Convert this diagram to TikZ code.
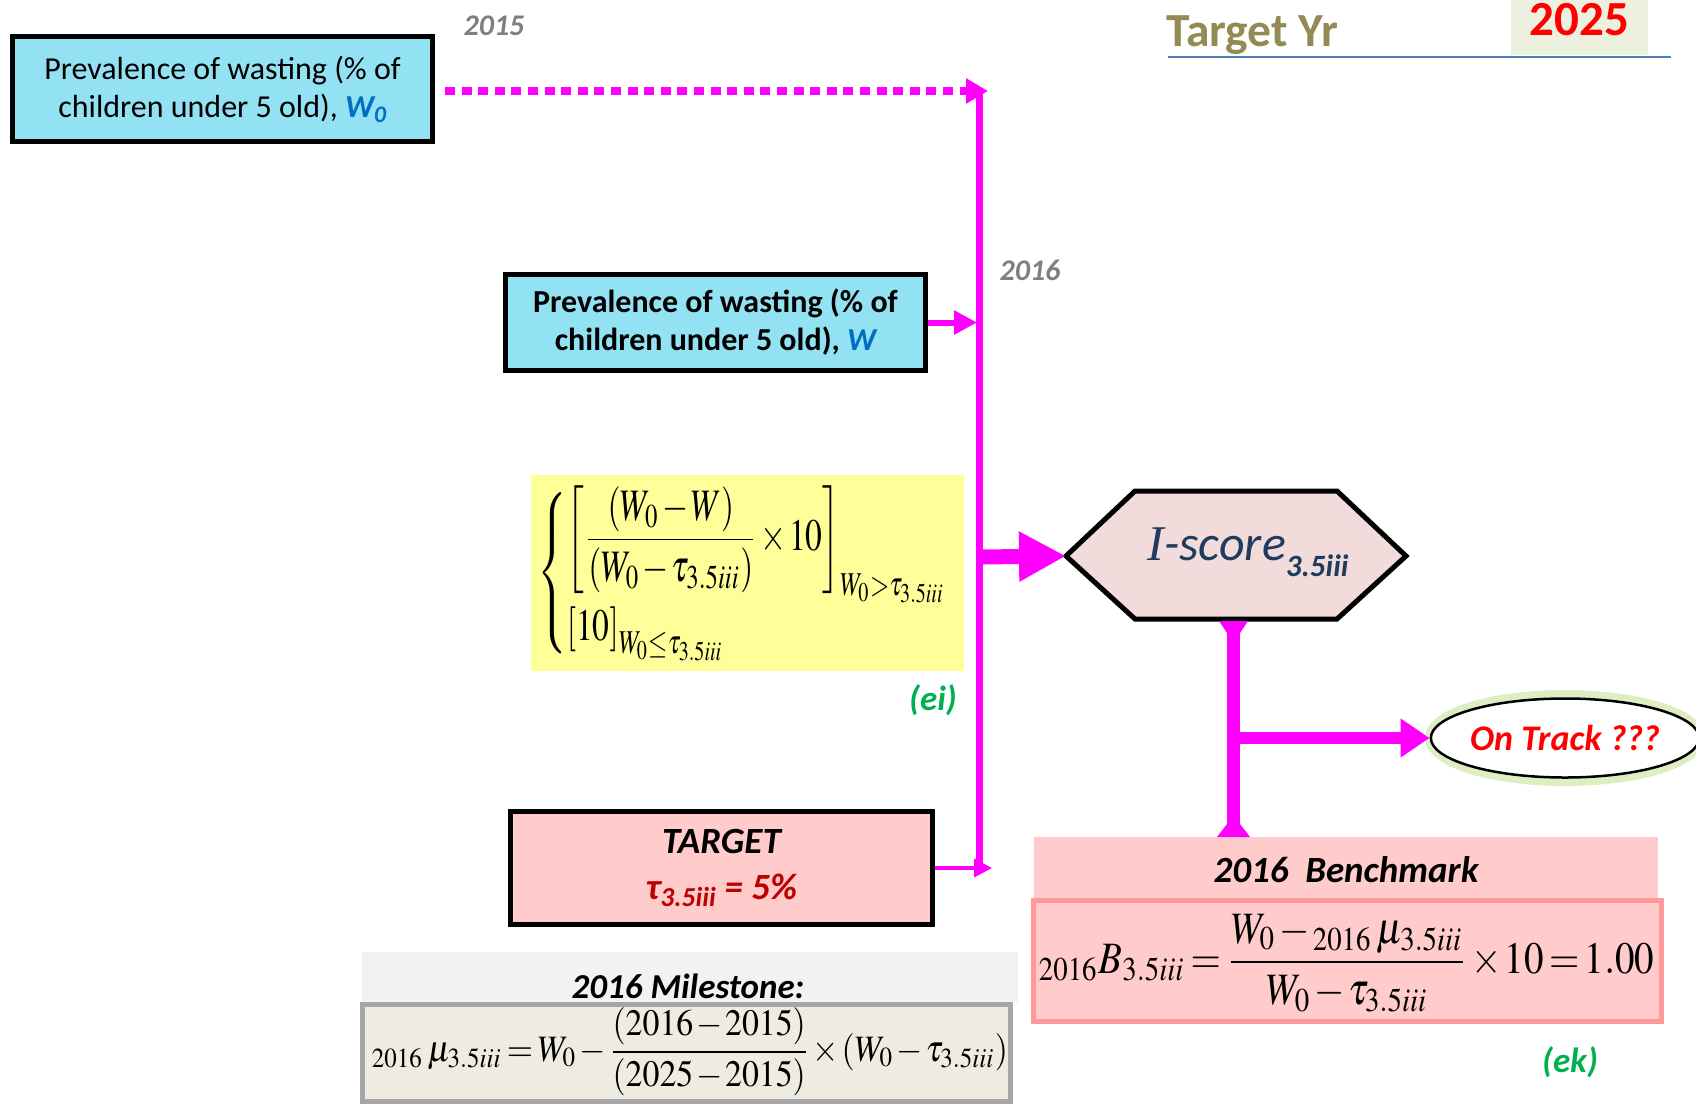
\documentclass[tikz,border=0pt]{standalone}
\usepackage{mathptmx}
\usepackage[no-math]{fontspec}
\setmainfont{Carlito}
\newfontfamily\serifit{Liberation Serif}
\usepackage{graphicx}
\usetikzlibrary{arrows.meta,shapes.geometric}
\definecolor{cMag}{HTML}{FF00FF}
\definecolor{cCyan}{HTML}{93E2F3}
\definecolor{cPink}{HTML}{FFCBCB}
\definecolor{cHex}{HTML}{F2DCDB}
\definecolor{cYel}{HTML}{FFFF99}
\definecolor{cWblue}{HTML}{0070C0}
\definecolor{cGreyTx}{HTML}{7F7F7F}
\definecolor{cGrn}{HTML}{00B050}
\definecolor{cOlive}{HTML}{948A54}
\definecolor{cRed}{HTML}{FF0000}
\definecolor{cDarkRed}{HTML}{C00000}
\definecolor{cGreenBox}{HTML}{EBF1DE}
\definecolor{cLGrey}{HTML}{F2F2F2}
\definecolor{cBeige}{HTML}{EEECE1}
\definecolor{cBordGrey}{HTML}{A6A6A6}
\definecolor{cSalmon}{HTML}{FF9999}
\definecolor{cNavy}{HTML}{1F3B5E}
\definecolor{cUl}{HTML}{4F81BD}
\definecolor{cGlow}{HTML}{D2E6A8}
\newcommand\myfs[2]{\fontsize{#1}{#2}\selectfont}
\newcommand\tightmath{\medmuskip=1.5mu\thickmuskip=2.5mu\relax}
\begin{document}
\begin{tikzpicture}[x=1pt,y=-1pt,
  blackbox/.style={draw=black, line width=5pt, inner sep=0pt, align=center},
  magline/.style={draw=cMag},
  yeartx/.style={text=cGreyTx, font=\myfs{30}{36}\bfseries\itshape, inner sep=0pt},
  lbltx/.style={text=cGrn, font=\myfs{35}{40}\bfseries\itshape, inner sep=0pt},
  hdrtx/.style={font=\myfs{35}{40}\bfseries\itshape, inner sep=0pt, align=center}
]
\useasboundingbox (0,0) rectangle (1696,1103);

% ---- Target year header
\node[fill=cGreenBox, minimum width=137pt, minimum height=55pt, inner sep=0pt] (yrbox) at (1579.5,27.5) {};
\node[anchor=base, text=cRed, font=\myfs{49}{52}\bfseries, inner sep=0pt] (yr) at (1579.5,35) {2025};
\node[anchor=base, text=cOlive, font=\myfs{47.5}{50}\bfseries, inner sep=0pt] (tyr) at (1252,46) {Target Yr};
\coordinate (ulA) at (1168,57);
\coordinate (ulB) at (1671,57);
\draw[cUl, line width=2pt] (ulA) -- (ulB);

% ---- year labels
\node[yeartx, anchor=base] (y2015) at (494,35) {2015};
\node[yeartx, anchor=base] (y2016) at (1030,280) {2016};

% ---- boxes
\node[blackbox, fill=cCyan, minimum width=420pt, minimum height=105pt,
      font=\myfs{32}{38}] (w0) at (222.5,89)
  {Prevalence of wasting (\% of\\children under 5 old), \textcolor{cWblue}{\bfseries\itshape W\textsubscript{0}}};
\node[blackbox, fill=cCyan, minimum width=420pt, minimum height=96pt,
      font=\myfs{32}{38}\bfseries] (w) at (715.5,322.5)
  {Prevalence of wasting (\% of\\children under 5 old), \textcolor{cWblue}{\itshape W}};
\node[fill=cYel, minimum width=433pt, minimum height=196pt, inner sep=0pt] (yel) at (747.5,573) {};
\node[inner sep=0pt] (eqa) at (743.5,573)
  {\resizebox*{413pt}{175pt}{$\displaystyle\tightmath
   \left\{\begin{array}{@{}l@{}}
   \left[\displaystyle\frac{\left(W_0-W\right)}{\left(W_0-\tau_{3.5iii}\right)}\times 10\right]_{W_0>\tau_{3.5iii}}\\[1pt]
   \left[10\right]_{W_0\le\tau_{3.5iii}}
   \end{array}\right.$}};
\node[lbltx] (ei) at (933,700) {(ei)};

\node[blackbox, fill=cPink, minimum width=422pt, minimum height=113pt,
      font=\myfs{37}{46}\bfseries\itshape] (tgt) at (721.5,868)
  {TARGET\\\textcolor{cDarkRed}{τ\textsubscript{3.5iii} = 5\%}};

% ---- milestone
\node[fill=cLGrey, minimum width=656pt, minimum height=50pt, inner sep=0pt] (mshdr) at (690,977) {};
\node[hdrtx, font=\myfs{35}{40}\bfseries\itshape] (mstx) at (688,986) {2016 Milestone:};
\node[draw=cBordGrey, fill=cBeige, line width=5pt, minimum width=648pt, minimum height=97pt, inner sep=0pt] (msbox) at (686.5,1053) {};
\node[inner sep=0pt] (eqm) at (690,1052)
  {\resizebox*{636pt}{88pt}{$\displaystyle\tightmath
   {}_{2016}\,\mu_{3.5iii}=W_0-\frac{\left(2016-2015\right)}{\left(2025-2015\right)}\times\left(W_0-\tau_{3.5iii}\right)$}};

% ---- benchmark
\node[fill=cPink, minimum width=624pt, minimum height=61pt, inner sep=0pt] (bmhdr) at (1346,867.5) {};
\node[hdrtx, font=\myfs{37}{42}\bfseries\itshape] (bmtx) at (1346,870) {2016\ \ Benchmark};
\node[draw=cSalmon, fill=cPink, line width=5pt, minimum width=628pt, minimum height=121pt, inner sep=0pt] (bmbox) at (1347.5,961) {};
\node[inner sep=0pt] (eqb) at (1346.5,963)
  {\resizebox*{615pt}{98pt}{$\displaystyle\tightmath
   {}_{2016}B_{3.5iii}=\frac{W_0-{}_{2016}\,\mu_{3.5iii}}{W_0-\tau_{3.5iii}}\times 10=1.00$}};
\node[lbltx] (ek) at (1570,1062) {(ek)};

% ---- hexagon
\coordinate (hexL) at (1066,556);
\coordinate (hexB) at (1233.5,621);
\draw[fill=cHex, draw=black, line width=5pt, line join=miter]
  (hexL) -- (1135,491) -- (1337,491) -- (1406,556) -- (1337,619) -- (1135,619) -- cycle;
\node[text=cNavy, inner sep=0pt, font=\myfs{50}{54}\itshape] (hex) at (1248,552)
  {{\serifit I}-score\raisebox{-0.32em}{\myfs{31}{31}\bfseries 3.5iii}};

% ---- On track
\draw[cGlow, line width=12pt, opacity=0.7] (1565,738) ellipse [x radius=134pt, y radius=42pt];
\node[ellipse, draw=black, line width=2.5pt, fill=white, minimum width=264pt, minimum height=79pt, inner sep=0pt,
      text=cRed, font=\myfs{36}{40}\bfseries\itshape] (track) at (1565,738) {On Track ???};

% ---- connectors
\coordinate (vtop) at (979,90);
\coordinate (vbot) at (979,868);
\draw[magline, line width=7pt] (vtop) -- (vbot);
\coordinate (dotEnd) at (988,91);
\draw[magline, line width=8pt, dash pattern=on 10pt off 6.6pt, -{Triangle[length=22pt,width=24pt]}]
  ([xshift=10pt]w0.east |- dotEnd) -- (dotEnd);
\coordinate (wEnd) at (977,322.5);
\draw[magline, line width=6pt, -{Triangle[length=23pt,width=23pt]}] (w.east) -- (wEnd);
\coordinate (tEnd) at (992,868);
\draw[magline, line width=4pt, -{Triangle[length=18pt,width=18pt]}] (tgt.east) -- (tEnd);
\coordinate (bigStart) at (979,557);
\draw[magline, line width=15pt, -{Triangle[length=47pt,width=47pt]}] (bigStart) -- (hexL);

\coordinate (bmTop) at (1233.5,837);
\draw[magline, line width=13pt] (hexB) -- (bmTop);
\fill[cMag] (1219,621) -- (1248,621) -- (1240,633) -- (1227,633) -- cycle;
\fill[cMag] (1227,824) -- (1240,824) -- (1250,837) -- (1217,837) -- cycle;
\coordinate (otStart) at (1233.5,738);
\draw[magline, line width=12pt, -{Triangle[length=29pt,width=37pt]}] (otStart) -- (track.west);
\end{tikzpicture}
\end{document}
